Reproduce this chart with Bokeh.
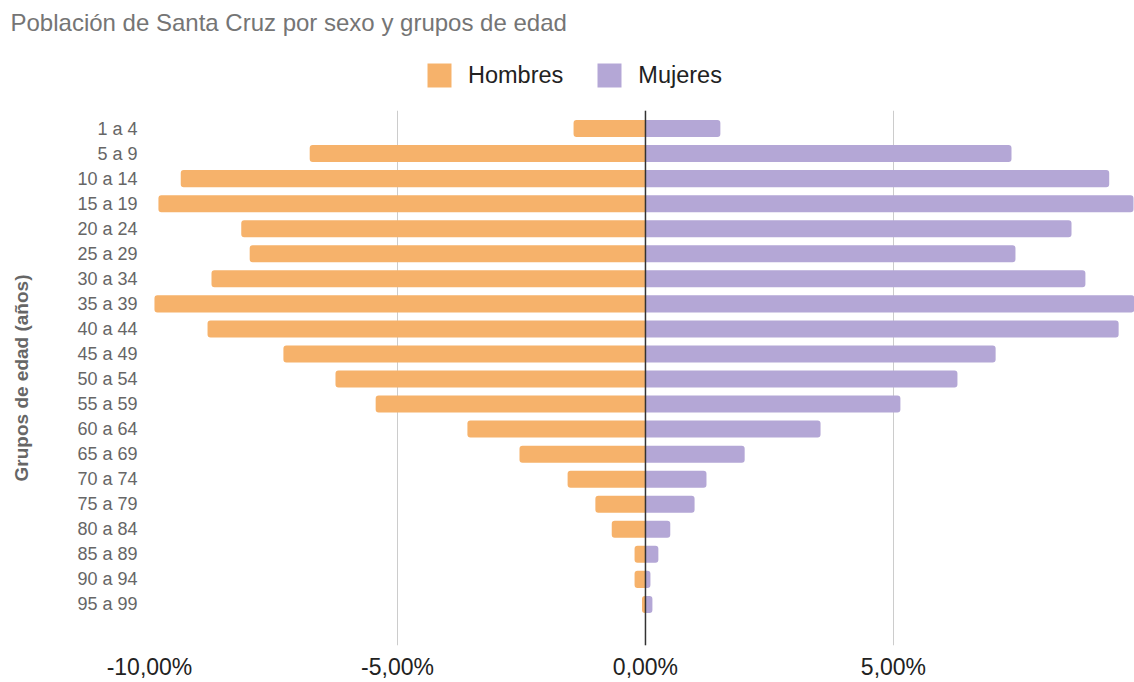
from bokeh.plotting import figure
from bokeh.layouts import column
from bokeh.models import Range1d, FixedTicker, Span, Legend, LegendItem
from bokeh.embed import file_html
from bokeh.resources import INLINE

grupos = ["1 a 4", "5 a 9", "10 a 14", "15 a 19", "20 a 24", "25 a 29", "30 a 34",
          "35 a 39", "40 a 44", "45 a 49", "50 a 54", "55 a 59", "60 a 64", "65 a 69",
          "70 a 74", "75 a 79", "80 a 84", "85 a 89", "90 a 94", "95 a 99"]
hombres = [1.45, 6.77, 9.37, 9.82, 8.15, 7.98, 8.75, 9.90, 8.83, 7.30,
           6.25, 5.44, 3.59, 2.54, 1.57, 1.01, 0.68, 0.22, 0.22, 0.07]
mujeres = [1.51, 7.38, 9.35, 9.84, 8.59, 7.46, 8.87, 10.10, 9.54, 7.06,
           6.29, 5.14, 3.53, 2.00, 1.23, 0.99, 0.50, 0.26, 0.10, 0.14]
x_ticks = [-10, -5, 0, 5]
x_tick_labels = ["-10,00%", "-5,00%", "0,00%", "5,00%"]
titulo = "Población de Santa Cruz por sexo y grupos de edad"
series = ["Hombres", "Mujeres"]

FONT = "Liberation Sans"
C_H = "#f6b26b"
C_M = "#b4a7d6"

ys = list(range(len(grupos)))
n = len(grupos)
izq = [-v for v in hombres]

# ---------- header: title + legend ----------
head = figure(width=1134, height=110, output_backend="svg", toolbar_location=None,
              x_range=Range1d(0, 1), y_range=Range1d(0, 1),
              x_axis_type=None, y_axis_type=None, min_border=0)
head.grid.grid_line_color = None
head.outline_line_color = None
lh = head.hbar(y=ys, left=izq, right=0, height=0.68, fill_color=C_H, line_color=None,
               border_radius=2, visible=False)
lm = head.hbar(y=ys, left=0, right=mujeres, height=0.68, fill_color=C_M, line_color=None,
               border_radius=2, visible=False)
legend = Legend(items=[LegendItem(label=series[0], renderers=[lh]),
                       LegendItem(label=series[1], renderers=[lm])],
                orientation="horizontal", location=(275, 20),
                label_text_font=FONT, label_text_font_size="23.5px",
                label_text_color="#222222", glyph_width=30, glyph_height=30,
                label_standoff=14, spacing=31, border_line_color=None,
                background_fill_alpha=0, padding=5, margin=0,
                inactive_fill_alpha=0)
head.add_layout(legend)
head.title.text = titulo
head.title.text_font = FONT
head.title.text_font_size = "24px"
head.title.text_font_style = "normal"
head.title.text_color = "#757575"
head.title.align = "left"
head.title.offset = -139
head.title.standoff = 13

# ---------- main chart ----------
p = figure(width=1134, height=572, output_backend="svg", toolbar_location=None,
           x_range=Range1d(-10, 9.86), y_range=Range1d(n + 0.64, -0.72),
           min_border_left=149, min_border_right=0, min_border_bottom=34,
           min_border_top=0)

rh = p.hbar(y=ys, left=izq, right=0, height=0.68,
            fill_color=C_H, line_color=None, border_radius=(3, 0, 0, 3))
rm = p.hbar(y=ys, left=0, right=mujeres, height=0.68,
            fill_color=C_M, line_color=None, border_radius=(0, 3, 3, 0))

p.add_layout(Span(location=0, dimension="height", line_color="#333333", line_width=1.5))

p.xaxis.ticker = FixedTicker(ticks=x_ticks)
p.xaxis.major_label_overrides = {t: l for t, l in zip(x_ticks, x_tick_labels)}
p.xaxis.major_label_text_font = FONT
p.xaxis.major_label_text_font_size = "23px"
p.xaxis.major_label_text_color = "#222222"
p.xaxis.major_label_standoff = 8
p.yaxis.ticker = FixedTicker(ticks=ys)
p.yaxis.major_label_overrides = {i: g for i, g in zip(ys, grupos)}
p.yaxis.major_label_text_font = FONT
p.yaxis.major_label_text_font_size = "18px"
p.yaxis.major_label_text_color = "#666666"
p.yaxis.major_label_standoff = 12
p.yaxis.axis_label = "Grupos de edad (años)"
p.yaxis.axis_label_text_font = FONT
p.yaxis.axis_label_text_font_size = "19px"
p.yaxis.axis_label_text_font_style = "bold"
p.yaxis.axis_label_text_color = "#666666"
p.yaxis.axis_label_standoff = 42
for ax in (p.xaxis, p.yaxis):
    ax.axis_line_color = None
    ax.major_tick_line_color = None
    ax.minor_tick_line_color = None
    ax.major_tick_out = 0
    ax.major_tick_in = 0
    ax.minor_tick_out = 0
    ax.minor_tick_in = 0

p.xgrid.ticker = FixedTicker(ticks=x_ticks)
p.xgrid.grid_line_color = "#cccccc"
p.ygrid.grid_line_color = None
p.outline_line_color = None

layout = column(head, p, spacing=0)
open("out.html", "w").write(file_html(layout, INLINE))
